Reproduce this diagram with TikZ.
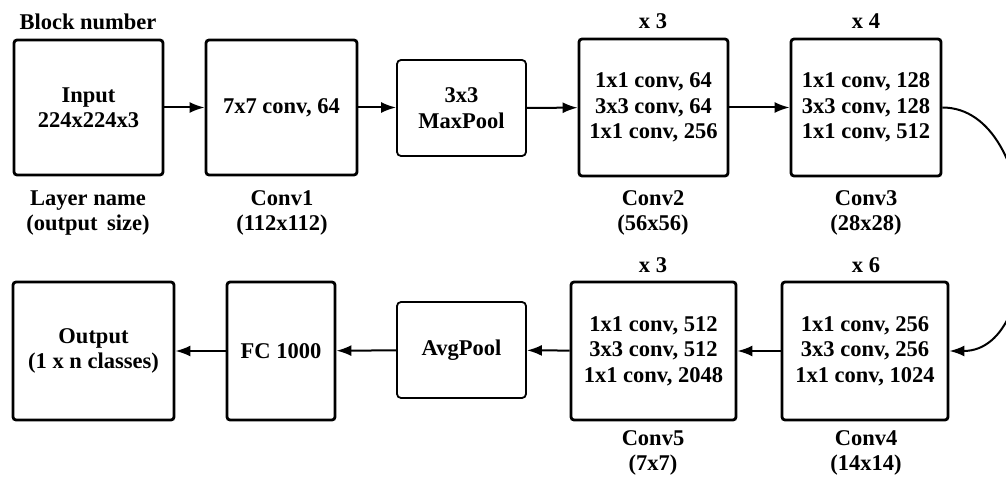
\documentclass[tikz,border=0pt]{standalone}
\usepackage{fontspec}
\setmainfont{Liberation Serif}
\usetikzlibrary{arrows.meta}
\begin{document}
\begin{tikzpicture}[x=1pt,y=-1pt,
  every node/.style={font=\fontsize{22.5}{25.5}\selectfont\bfseries, align=center, inner sep=0pt},
  block/.style={draw, line width=2.8pt, rounded corners=3pt},
  pool/.style={draw, line width=1.8pt, rounded corners=4pt, minimum width=129pt, minimum height=96pt},
  caption/.style={},
  flow/.style={line width=2pt, -{Latex[length=15pt,width=11pt]}}]
\useasboundingbox (0,0) rectangle (1006,478);

% top row
\node[block, minimum width=149pt, minimum height=135pt] (input) at (88.5,107.5) {Input\\224x224x3};
\node[block, minimum width=151pt, minimum height=135pt] (conv1) at (281.5,107.5) {7x7 conv, 64};
\node[pool] (maxpool) at (461.5,108) {3x3\\MaxPool};
\node[block, minimum width=149pt, minimum height=137pt] (conv2) at (653.5,107.5) {1x1 conv, 64\\3x3 conv, 64\\1x1 conv, 256};
\node[block, minimum width=150pt, minimum height=137pt] (conv3) at (866,107.5) {1x1 conv, 128\\3x3 conv, 128\\1x1 conv, 512};

% bottom row
\node[block, minimum width=161pt, minimum height=138pt] (output) at (93.5,351) {Output\\(1 x n classes)};
\node[block, minimum width=108pt, minimum height=138pt] (fc) at (281,351) {FC 1000};
\node[pool] (avgpool) at (461.5,350) {AvgPool};
\node[block, minimum width=165pt, minimum height=138pt] (conv5) at (653.5,351) {1x1 conv, 512\\3x3 conv, 512\\1x1 conv, 2048};
\node[block, minimum width=166pt, minimum height=138pt] (conv4) at (865,351) {1x1 conv, 256\\3x3 conv, 256\\1x1 conv, 1024};

% legend and block captions
\node[caption] (blocknum) at (88,22) {Block number};
\node[caption] (layername) at (88,213) {Layer name\\(output\, size)};
\node[caption] (lab1) at (282,213) {Conv1\\(112x112)};
\node[caption] (rep2) at (653,21) {x 3};
\node[caption] (lab2) at (653,213) {Conv2\\(56x56)};
\node[caption] (rep3) at (866,21) {x 4};
\node[caption] (lab3) at (866,213) {Conv3\\(28x28)};
\node[caption] (rep5) at (653,265) {x 3};
\node[caption] (lab5) at (653,453) {Conv5\\(7x7)};
\node[caption] (rep4) at (866,265) {x 6};
\node[caption] (lab4) at (866,453) {Conv4\\(14x14)};

% connections
\draw[flow] (input) -- (conv1);
\draw[flow] (conv1) -- (maxpool.west |- conv1.east);
\draw[flow] (maxpool) -- (conv2);
\draw[flow] (conv2) -- (conv3);
\draw[flow] (conv3.east) to[out=0, in=0, looseness=1.05] (conv4.east);
\draw[flow] (conv4) -- (conv5);
\draw[flow] (conv5) -- (avgpool);
\draw[flow] (avgpool) -- (fc);
\draw[flow] (fc) -- (output);
\end{tikzpicture}
\end{document}
